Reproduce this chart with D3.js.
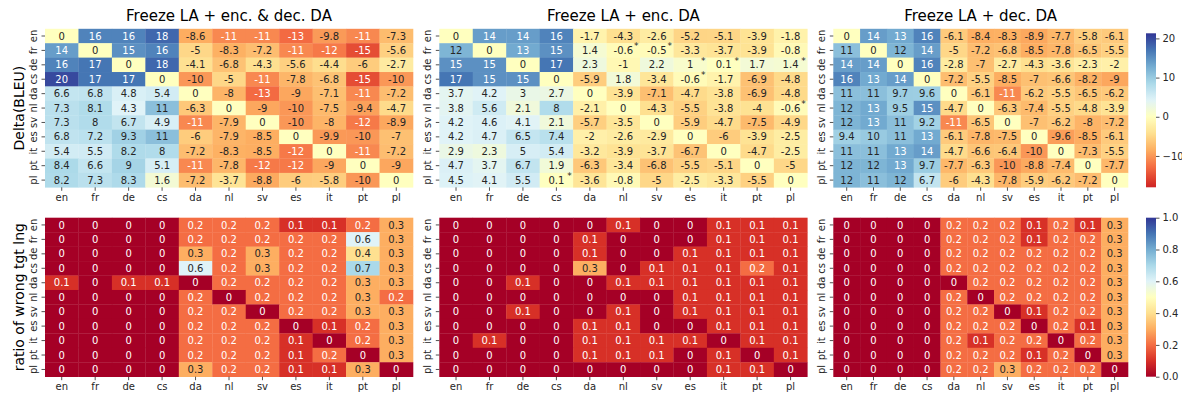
<!DOCTYPE html>
<html>
<head>
<meta charset="utf-8">
<script src="https://cdn.jsdelivr.net/npm/d3@7"></script>
<style>
  body { margin: 0; background: #fff; }
  text { font-family: "DejaVu Sans", sans-serif; }
</style>
</head>
<body>
<svg id="chart" width="1182" height="394"></svg>
<script>
const langs = ["en", "fr", "de", "cs", "da", "nl", "sv", "es", "it", "pt", "pl"];
const titles = ["Freeze LA + enc. & dec. DA", "Freeze LA + enc. DA", "Freeze LA + dec. DA"];
const rowTitles = ["Delta(BLEU)", "ratio of wrong tgt lng"];

// Delta BLEU, rows = source, cols = target
const bleuEncDec = [
  [0, 16, 16, 18, -8.6, -11, -11, -13, -9.8, -11, -7.3],
  [14, 0, 15, 16, -5, -8.3, -7.2, -11, -12, -15, -5.6],
  [16, 17, 0, 18, -4.1, -6.8, -4.3, -5.6, -4.4, -6, -2.7],
  [20, 17, 17, 0, -10, -5, -11, -7.8, -6.8, -15, -10],
  [6.6, 6.8, 4.8, 5.4, 0, -8, -13, -9, -7.1, -11, -7.2],
  [7.3, 8.1, 4.3, 11, -6.3, 0, -9, -10, -7.5, -9.4, -4.7],
  [7.3, 8, 6.7, 4.9, -11, -7.9, 0, -10, -8, -12, -8.9],
  [6.8, 7.2, 9.3, 11, -6, -7.9, -8.5, 0, -9.9, -10, -7],
  [5.4, 5.5, 8.2, 8, -7.2, -8.3, -8.5, -12, 0, -11, -7.2],
  [8.4, 6.6, 9, 5.1, -11, -7.8, -12, -12, -9, 0, -9],
  [8.2, 7.3, 8.3, 1.6, -7.2, -3.7, -8.8, -6, -5.8, -10, 0]
];
const bleuEnc = [
  [0, 14, 14, 16, -1.7, -4.3, -2.6, -5.2, -5.1, -3.9, -1.8],
  [12, 0, 13, 15, 1.4, -0.6, -0.5, -3.3, -3.7, -3.9, -0.8],
  [15, 15, 0, 17, 2.3, -1, 2.2, 1, 0.1, 1.7, 1.4],
  [17, 15, 15, 0, -5.9, 1.8, -3.4, -0.6, -1.7, -6.9, -4.8],
  [3.7, 4.2, 3, 2.7, 0, -3.9, -7.1, -4.7, -3.8, -6.9, -4.8],
  [3.8, 5.6, 2.1, 8, -2.1, 0, -4.3, -5.5, -3.8, -4, -0.6],
  [4.2, 4.6, 4.1, 2.1, -5.7, -3.5, 0, -5.9, -4.7, -7.5, -4.9],
  [4.2, 4.7, 6.5, 7.4, -2, -2.6, -2.9, 0, -6, -3.9, -2.5],
  [2.9, 2.3, 5, 5.4, -3.2, -3.9, -3.7, -6.7, 0, -4.7, -2.5],
  [4.7, 3.7, 6.7, 1.9, -6.3, -3.4, -6.8, -5.5, -5.1, 0, -5],
  [4.5, 4.1, 5.5, 0.1, -3.6, -0.8, -5, -2.5, -3.3, -5.5, 0]
];
const bleuDec = [
  [0, 14, 13, 16, -6.1, -8.4, -8.3, -8.9, -7.7, -5.8, -6.1],
  [11, 0, 12, 14, -5, -7.2, -6.8, -8.5, -7.8, -6.5, -5.5],
  [14, 14, 0, 16, -2.8, -7, -2.7, -4.3, -3.6, -2.3, -2],
  [16, 13, 14, 0, -7.2, -5.5, -8.5, -7, -6.6, -8.2, -9],
  [11, 11, 9.7, 9.6, 0, -6.1, -11, -6.2, -5.5, -6.5, -6.2],
  [12, 13, 9.5, 15, -4.7, 0, -6.3, -7.4, -5.5, -4.8, -3.9],
  [12, 13, 11, 9.2, -11, -6.5, 0, -7, -6.2, -8, -7.2],
  [9.4, 10, 11, 13, -6.1, -7.8, -7.5, 0, -9.6, -8.5, -6.1],
  [11, 11, 13, 14, -4.7, -6.6, -6.4, -10, 0, -7.3, -5.5],
  [12, 12, 13, 9.7, -7.7, -6.3, -10, -8.8, -7.4, 0, -7.7],
  [12, 11, 12, 6.7, -6, -4.3, -7.8, -5.9, -6.2, -7.2, 0]
];

// ratio of outputs in the wrong target language
const wrongEncDec = [
  [0, 0, 0, 0, 0.2, 0.2, 0.2, 0.1, 0.1, 0.2, 0.3],
  [0, 0, 0, 0, 0.2, 0.2, 0.2, 0.2, 0.2, 0.6, 0.3],
  [0, 0, 0, 0, 0.3, 0.2, 0.3, 0.2, 0.2, 0.4, 0.3],
  [0, 0, 0, 0, 0.6, 0.2, 0.3, 0.2, 0.2, 0.7, 0.3],
  [0.1, 0, 0.1, 0.1, 0, 0.2, 0.2, 0.2, 0.2, 0.3, 0.3],
  [0, 0, 0, 0, 0.2, 0, 0.2, 0.2, 0.2, 0.3, 0.2],
  [0, 0, 0, 0, 0.2, 0.2, 0, 0.2, 0.2, 0.3, 0.3],
  [0, 0, 0, 0, 0.2, 0.2, 0.2, 0, 0.1, 0.2, 0.3],
  [0, 0, 0, 0, 0.2, 0.2, 0.2, 0.1, 0, 0.2, 0.3],
  [0, 0, 0, 0, 0.2, 0.2, 0.2, 0.1, 0.2, 0, 0.3],
  [0, 0, 0, 0, 0.3, 0.2, 0.2, 0.1, 0.1, 0.3, 0]
];
const wrongEnc = [
  [0, 0, 0, 0, 0, 0.1, 0, 0, 0.1, 0.1, 0.1],
  [0, 0, 0, 0, 0.1, 0, 0, 0, 0.1, 0.1, 0.1],
  [0, 0, 0, 0, 0.1, 0, 0, 0.1, 0.1, 0.1, 0.1],
  [0, 0, 0, 0, 0.3, 0, 0.1, 0.1, 0.1, 0.2, 0.1],
  [0, 0, 0.1, 0, 0, 0.1, 0.1, 0.1, 0.1, 0.1, 0.1],
  [0, 0, 0, 0, 0, 0, 0, 0.1, 0.1, 0.1, 0.1],
  [0, 0, 0.1, 0, 0, 0.1, 0, 0.1, 0.1, 0.1, 0.1],
  [0, 0, 0, 0, 0.1, 0.1, 0, 0, 0.1, 0.1, 0.1],
  [0, 0.1, 0, 0, 0.1, 0.1, 0.1, 0.1, 0, 0.1, 0.1],
  [0, 0, 0, 0, 0.1, 0.1, 0.1, 0, 0.1, 0, 0.1],
  [0, 0, 0, 0, 0, 0, 0, 0, 0.1, 0.1, 0]
];
const wrongDec = [
  [0, 0, 0, 0, 0.2, 0.2, 0.2, 0.1, 0.2, 0.1, 0.3],
  [0, 0, 0, 0, 0.2, 0.2, 0.2, 0.1, 0.2, 0.2, 0.3],
  [0, 0, 0, 0, 0.2, 0.2, 0.2, 0.2, 0.2, 0.2, 0.3],
  [0, 0, 0, 0, 0.2, 0.2, 0.2, 0.2, 0.2, 0.2, 0.3],
  [0, 0, 0, 0, 0, 0.2, 0.2, 0.2, 0.2, 0.2, 0.3],
  [0, 0, 0, 0, 0.2, 0, 0.2, 0.2, 0.2, 0.2, 0.3],
  [0, 0, 0, 0, 0.2, 0.2, 0, 0.1, 0.2, 0.2, 0.3],
  [0, 0, 0, 0, 0.2, 0.2, 0.2, 0, 0.2, 0.1, 0.3],
  [0, 0, 0, 0, 0.2, 0.1, 0.2, 0.2, 0, 0.2, 0.3],
  [0, 0, 0, 0, 0.2, 0.2, 0.2, 0.1, 0.2, 0, 0.3],
  [0, 0, 0, 0, 0.2, 0.2, 0.3, 0.2, 0.2, 0.2, 0]
];

// cells marked with an asterisk (source, target), middle panel only
const starsEnc = [["fr", "nl"], ["fr", "sv"], ["de", "es"], ["de", "it"], ["de", "pl"], ["cs", "es"], ["nl", "pl"], ["pl", "cs"]];

const bleuTicks = [-10, 0, 10, 20];
const ratioTicks = [0, 0.2, 0.4, 0.6, 0.8, 1.0];
const bleuMin = -18, bleuMax = 21.3;

// layout (px)
const colX = [[45, 413], [439.3, 807.3], [833.3, 1128]];
const rowY = [[28.8, 187.3], [217.7, 376.7]];
const cbarX = [1146, 1156];
const cbarY = [[33.3, 187.3], [217.7, 376.7]];
const ink = "#262626";

const rdylbu = d3.piecewise(d3.interpolateRgb, ["#a50026", "#d73027", "#f46d43", "#fdae61", "#fee090", "#ffffbf", "#e0f3f8", "#abd9e9", "#74add1", "#4575b4", "#313695"]);
// centred at 0 like seaborn's center=0
const bleuRange = Math.max(bleuMax, -bleuMin);
const bleuColor = v => rdylbu((v + bleuRange) / (2 * bleuRange));
const ratioColor = v => rdylbu(v);

function luminance(c) {
  const rgb = d3.rgb(c);
  const f = v => { v /= 255; return v <= 0.03928 ? v / 12.92 : Math.pow((v + 0.055) / 1.055, 2.4); };
  return 0.2126 * f(rgb.r) + 0.7152 * f(rgb.g) + 0.0722 * f(rgb.b);
}

const svg = d3.select("#chart");

function heatmap(data, xr, yr, color, stars) {
  const x = d3.scaleBand().domain(langs).range(xr);
  const y = d3.scaleBand().domain(langs).range(yr);
  const g = svg.append("g");

  const cells = [];
  data.forEach((row, i) => row.forEach((v, j) => cells.push({ src: langs[i], tgt: langs[j], v: v })));

  g.selectAll("rect")
    .data(cells)
    .enter()
    .append("rect")
    .attr("x", d => x(d.tgt))
    .attr("y", d => y(d.src))
    .attr("width", x.bandwidth() + 0.3)
    .attr("height", y.bandwidth() + 0.3)
    .attr("fill", d => color(d.v));

  g.selectAll("text.val")
    .data(cells)
    .enter()
    .append("text")
    .attr("class", "val")
    .attr("x", d => x(d.tgt) + x.bandwidth() / 2)
    .attr("y", d => y(d.src) + y.bandwidth() / 2)
    .attr("dy", "0.36em")
    .attr("text-anchor", "middle")
    .style("font-size", "10px")
    .attr("fill", d => luminance(color(d.v)) > 0.408 ? ink : "#fff")
    .text(d => String(d.v));

  g.selectAll("text.star")
    .data(stars)
    .enter()
    .append("text")
    .attr("class", "star")
    .attr("x", d => x(d[1]) + x.bandwidth() / 2 + 13)
    .attr("y", d => y(d[0]) + y.bandwidth() / 2 - 1)
    .attr("text-anchor", "middle")
    .style("font-size", "9px")
    .attr("fill", ink)
    .text("*");

  const xAxis = svg.append("g")
    .attr("transform", `translate(0,${yr[1]})`)
    .call(d3.axisBottom(x).tickSize(3.5).tickPadding(3));
  const yAxis = svg.append("g")
    .attr("transform", `translate(${xr[0]},0)`)
    .call(d3.axisLeft(y).tickSize(3.5));
  yAxis.selectAll(".tick text")
    .attr("x", null)
    .attr("dy", null)
    .attr("text-anchor", "middle")
    .attr("transform", "translate(-8.3,0) rotate(-90)");

  [xAxis, yAxis].forEach(a => {
    a.select(".domain").remove();
    a.attr("font-family", null).attr("font-size", null);
    a.selectAll(".tick text").style("font-size", "10px").attr("fill", ink);
    a.selectAll(".tick line").attr("stroke", ink).attr("stroke-width", 0.8);
  });
}

function colorbar(id, yr, vmin, vmax, color, ticks, fmt) {
  const grad = svg.append("defs").append("linearGradient")
    .attr("id", id)
    .attr("x1", 0).attr("y1", 1).attr("x2", 0).attr("y2", 0);
  d3.range(0, 1.0001, 0.02).forEach(t => {
    grad.append("stop")
      .attr("offset", t)
      .attr("stop-color", color(vmin + t * (vmax - vmin)));
  });
  svg.append("rect")
    .attr("x", cbarX[0])
    .attr("y", yr[0])
    .attr("width", cbarX[1] - cbarX[0])
    .attr("height", yr[1] - yr[0])
    .attr("fill", `url(#${id})`);

  const s = d3.scaleLinear().domain([vmin, vmax]).range([yr[1], yr[0]]);
  const a = svg.append("g")
    .attr("transform", `translate(${cbarX[1]},0)`)
    .call(d3.axisRight(s).tickValues(ticks).tickFormat(fmt).tickSize(3.5).tickPadding(3));
  a.select(".domain").remove();
  a.attr("font-family", null).attr("font-size", null);
  a.selectAll(".tick text").style("font-size", "10px").attr("fill", ink);
  a.selectAll(".tick line").attr("stroke", ink).attr("stroke-width", 0.8);
}

const bleuSets = [bleuEncDec, bleuEnc, bleuDec];
const wrongSets = [wrongEncDec, wrongEnc, wrongDec];

bleuSets.forEach((data, k) => heatmap(data, colX[k], rowY[0], bleuColor, k === 1 ? starsEnc : []));
wrongSets.forEach((data, k) => heatmap(data, colX[k], rowY[1], ratioColor, []));

colorbar("cb-bleu", cbarY[0], bleuMin, bleuMax, bleuColor, bleuTicks, d3.format("d"));
colorbar("cb-ratio", cbarY[1], 0, 1, ratioColor, ratioTicks, d3.format(".1f"));

// panel titles
svg.selectAll("text.title")
  .data(titles)
  .enter()
  .append("text")
  .attr("class", "title")
  .attr("x", (d, i) => (colX[i][0] + colX[i][1]) / 2)
  .attr("y", 21)
  .attr("text-anchor", "middle")
  .style("font-size", "15px")
  .attr("fill", "#000")
  .text(d => d);

// row titles
svg.selectAll("text.rowtitle")
  .data(rowTitles)
  .enter()
  .append("text")
  .attr("class", "rowtitle")
  .attr("transform", (d, i) => `translate(23.5,${(rowY[i][0] + rowY[i][1]) / 2}) rotate(-90)`)
  .attr("text-anchor", "middle")
  .style("font-size", "14px")
  .attr("fill", "#000")
  .text(d => d);
</script>
</body>
</html>
